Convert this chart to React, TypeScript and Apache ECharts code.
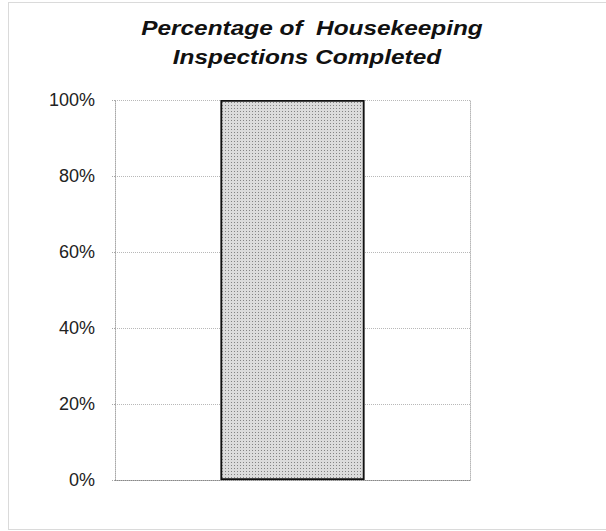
import React, { useEffect, useRef } from "react";
import * as echarts from "echarts";

const titleLines = ["Percentage of  Housekeeping", "Inspections Completed"];
const categories = ["Completed"];
const values = [100];
const yMin = 0;
const yMax = 100;
const yStep = 20;

export default function App() {
  const ref = useRef<HTMLDivElement>(null);
  useEffect(() => {
    if (!ref.current) return;
    const chart = echarts.init(ref.current, undefined, { renderer: "svg" });
    const grey = "#a8a8a8";
    chart.setOption({
      animation: false,
      backgroundColor: "#ffffff",
      graphic: [
        {
          type: "rect",
          shape: { x: 8.5, y: 2.5, width: 640, height: 527 },
          style: { fill: "none", stroke: "#b5b5b5", lineWidth: 1, lineDash: [1, 1] },
          silent: true,
        },
        {
          type: "text",
          x: 312,
          y: 38,
          scaleX: 1.22,
          style: {
            text: titleLines[0],
            fontFamily: "Liberation Sans, Arial, sans-serif",
            fontSize: 20,
            fontWeight: "bold",
            fontStyle: "italic",
            fill: "#111",
            textAlign: "center",
            textVerticalAlign: "bottom",
          },
        },
        {
          type: "text",
          x: 307,
          y: 67,
          scaleX: 1.22,
          style: {
            text: titleLines[1],
            fontFamily: "Liberation Sans, Arial, sans-serif",
            fontSize: 20,
            fontWeight: "bold",
            fontStyle: "italic",
            fill: "#111",
            textAlign: "center",
            textVerticalAlign: "bottom",
          },
        },
      ],
      grid: { left: 115, right: 136, top: 100, bottom: 51, containLabel: false },
      xAxis: {
        type: "category",
        data: categories,
        axisLabel: { show: false },
        axisTick: { show: false },
        axisLine: { show: true, lineStyle: { color: "#888", type: "dotted", width: 1 } },
      },
      yAxis: [
        {
          type: "value",
          min: yMin,
          max: yMax,
          interval: yStep,
          axisLabel: {
            formatter: "{value}%",
            fontFamily: "Liberation Sans, Arial, sans-serif",
            fontSize: 18,
            color: "#222",
            margin: 20,
          },
          axisTick: { show: true, length: 4, lineStyle: { color: grey, type: "dotted" } },
          axisLine: { show: true, lineStyle: { color: grey, type: "dotted" } },
          splitLine: { show: true, lineStyle: { color: "#b8b8b8", type: "dotted", width: 1 } },
        },
        {
          type: "value",
          min: yMin,
          max: yMax,
          interval: yStep,
          position: "right",
          axisLabel: { show: false },
          axisTick: { show: false },
          axisLine: { show: true, lineStyle: { color: "#b8b8b8", type: "dotted" } },
          splitLine: { show: false },
        },
      ],
      series: [
        {
          type: "bar",
          data: values,
          barWidth: "40.5%",
          itemStyle: {
            color: "#dcdcdc",
            borderColor: "#111",
            borderWidth: 1.5,
            decal: {
              symbol: "rect",
              symbolSize: 1,
              color: "rgba(60,60,60,0.55)",
              dashArrayX: [1, 2],
              dashArrayY: [1, 2],
              rotation: 0,
            },
          },
        },
      ],
    });
    return () => chart.dispose();
  }, []);
  return (
    <div
      ref={ref}
      style={{ position: "fixed", left: 0, top: 0, width: 606, height: 531 }}
    />
  );
}
